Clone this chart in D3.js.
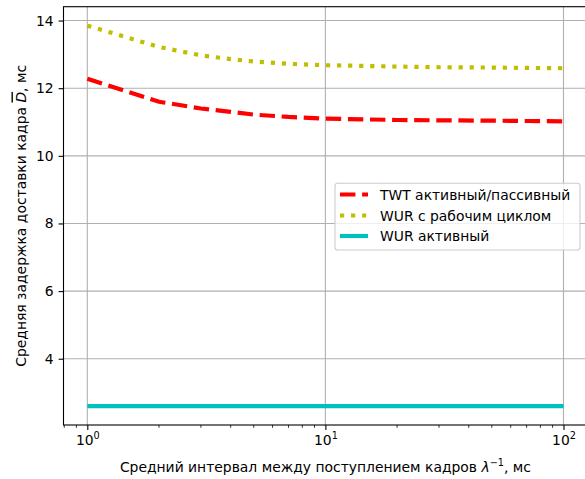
<!DOCTYPE html>
<html>
<head>
<meta charset="utf-8">
<script src="https://cdn.jsdelivr.net/npm/d3@7"></script>
<style>
body { margin: 0; background: #fff; }
text { font-family: "DejaVu Sans", sans-serif; }
</style>
</head>
<body>
<div id="chart"></div>
<script>
// data
var intervals = [1, 2, 3, 4, 5, 7, 10, 20, 30, 50, 70, 100];
var twtDelay = [12.28, 11.60, 11.40, 11.30, 11.22, 11.15, 11.10, 11.06, 11.05, 11.04, 11.03, 11.02];
var wurDutyDelay = [13.85, 13.22, 12.97, 12.86, 12.79, 12.72, 12.68, 12.64, 12.62, 12.61, 12.60, 12.59];
var wurActiveDelay = [2.6, 2.6, 2.6, 2.6, 2.6, 2.6, 2.6, 2.6, 2.6, 2.6, 2.6, 2.6];
var seriesNames = ["TWT активный/пассивный", "WUR с рабочим циклом", "WUR активный"];
var xTicks = [1, 10, 100];
var xTickExp = ["0", "1", "2"];
var yTicks = [4, 6, 8, 10, 12, 14];

var svgWidth = 585;
var svgHeight = 479;

var plot = { left: 63.5, right: 587.3, top: 6.7, bottom: 425 };

var svg = d3.select("#chart")
    .append("svg")
    .attr("width", svgWidth)
    .attr("height", svgHeight);

var x = d3.scaleLog()
    .domain([Math.pow(10, -0.1), Math.pow(10, 2.1)])
    .range([plot.left, plot.right]);
var y = d3.scaleLinear()
    .domain([2.04, 14.41])
    .range([plot.bottom, plot.top]);

// grid
var grid = svg.append("g");
grid.selectAll(".gx").data(xTicks).enter().append("line")
    .attr("x1", d => x(d)).attr("x2", d => x(d))
    .attr("y1", plot.top).attr("y2", plot.bottom)
    .attr("stroke", "#b0b0b0").attr("stroke-width", 1.1);
grid.selectAll(".gy").data(yTicks).enter().append("line")
    .attr("x1", plot.left).attr("x2", plot.right)
    .attr("y1", d => y(d)).attr("y2", d => y(d))
    .attr("stroke", "#b0b0b0").attr("stroke-width", 1.1);

// lines
svg.append("defs").append("clipPath").attr("id", "clip")
    .append("rect")
    .attr("x", plot.left).attr("y", plot.top)
    .attr("width", plot.right - plot.left).attr("height", plot.bottom - plot.top);

var series = [
    { name: seriesNames[0], values: twtDelay, color: "#ff0000", dash: "15.4,6.7" },
    { name: seriesNames[1], values: wurDutyDelay, color: "#bfbf00", dash: "4.17,6.88" },
    { name: seriesNames[2], values: wurActiveDelay, color: "#00bfbf", dash: null }
];

var line = d3.line()
    .x((d, i) => x(intervals[i]))
    .y(d => y(d));

var lines = svg.append("g").attr("clip-path", "url(#clip)");
series.forEach(function(s) {
    lines.append("path")
        .attr("d", line(s.values))
        .attr("fill", "none")
        .attr("stroke", s.color)
        .attr("stroke-width", 4.17)
        .attr("stroke-dasharray", s.dash);
});

// axes
var xAxis = svg.append("g")
    .attr("transform", `translate(0, ${plot.bottom})`)
    .call(d3.axisBottom(x).tickValues(xTicks).tickSize(4.9).tickPadding(4.9).tickSizeOuter(0));
xAxis.selectAll(".tick text").each(function(d, i) {
    var t = d3.select(this).text("");
    t.attr("font-size", 13.9).attr("fill", "#000");
    t.append("tspan").text("10");
    t.append("tspan").attr("font-size", 9.7).attr("dy", -5.5).text(xTickExp[i]);
});

// minor ticks on the log axis
var minorTicks = x.ticks().filter(d => xTicks.indexOf(d) < 0);
xAxis.selectAll(".minor").data(minorTicks).enter().append("line")
    .attr("x1", d => x(d)).attr("x2", d => x(d))
    .attr("y1", 0).attr("y2", 2.8)
    .attr("stroke", "#000").attr("stroke-width", 0.8);

var yAxis = svg.append("g")
    .attr("transform", `translate(${plot.left}, 0)`)
    .call(d3.axisLeft(y).tickValues(yTicks).tickSize(4.9).tickPadding(4.9).tickSizeOuter(0));
yAxis.selectAll(".tick text").attr("font-size", 13.9).attr("fill", "#000");

svg.selectAll(".domain").remove();
svg.selectAll(".tick line").attr("stroke-width", 1.1);

// spines
svg.append("rect")
    .attr("x", plot.left).attr("y", plot.top)
    .attr("width", plot.right - plot.left).attr("height", plot.bottom - plot.top)
    .attr("fill", "none").attr("stroke", "#000").attr("stroke-width", 1.1);

// axis labels
var xLabel = svg.append("text")
    .attr("x", (plot.left + plot.right) / 2)
    .attr("y", 471.5)
    .attr("text-anchor", "middle")
    .attr("font-size", 13.9);
xLabel.append("tspan").text("Средний интервал между поступлением кадров ");
xLabel.append("tspan").attr("font-style", "italic").text("λ");
xLabel.append("tspan").attr("font-size", 9.7).attr("dy", -5.5).text("−1");
xLabel.append("tspan").attr("dy", 5.5).text(", мс");

var yLabel = svg.append("text")
    .attr("transform", `translate(25.5, ${(plot.top + plot.bottom) / 2}) rotate(-90)`)
    .attr("text-anchor", "middle")
    .attr("font-size", 13.9);
yLabel.append("tspan").text("Средняя задержка доставки кадра ");
yLabel.append("tspan").attr("font-style", "italic").style("text-decoration", "overline").text("D");
yLabel.append("tspan").text(", мс");

// legend
var legend = svg.append("g");
legend.append("rect")
    .attr("x", 335).attr("y", 183.3)
    .attr("width", 245).attr("height", 66.7)
    .attr("rx", 2.8)
    .attr("fill", "#fff").attr("fill-opacity", 0.8)
    .attr("stroke", "#cccccc").attr("stroke-width", 1.1);

var rowY = [194.5, 215.5, 236];
series.forEach(function(s, i) {
    legend.append("line")
        .attr("x1", 340).attr("x2", 368)
        .attr("y1", rowY[i]).attr("y2", rowY[i])
        .attr("stroke", s.color)
        .attr("stroke-width", 4.17)
        .attr("stroke-dasharray", s.dash);
    legend.append("text")
        .attr("x", 380).attr("y", rowY[i] + 5)
        .attr("font-size", 13.9)
        .text(s.name);
});
</script>
</body>
</html>
